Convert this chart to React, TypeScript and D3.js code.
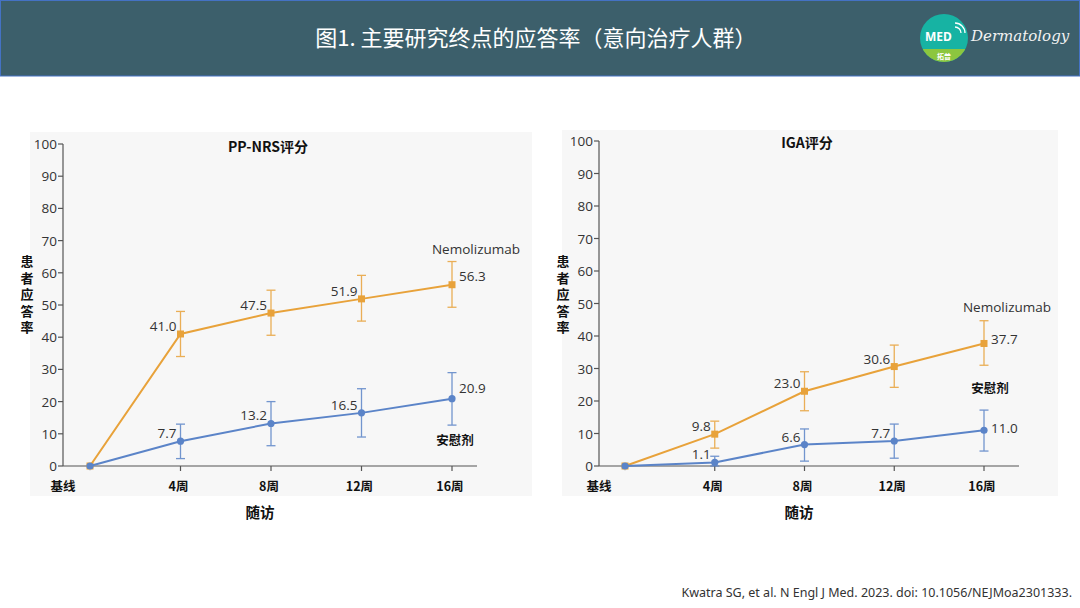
import React from 'react';
import * as d3 from 'd3';

// visits on the x axis
const visits = ['基线', '4周', '8周', '12周', '16周'];
const yTicks = [0, 10, 20, 30, 40, 50, 60, 70, 80, 90, 100];

// PP-NRS panel
const ppNemo = [0, 41.0, 47.5, 51.9, 56.3];
const ppNemoLo = [null, 34.0, 40.6, 45.0, 49.3];
const ppNemoHi = [null, 48.0, 54.6, 59.2, 63.5];
const ppPlacebo = [0, 7.7, 13.2, 16.5, 20.9];
const ppPlaceboLo = [null, 2.3, 6.3, 9.0, 12.7];
const ppPlaceboHi = [null, 13.0, 20.0, 24.0, 29.0];

// IGA panel
const igaNemo = [0, 9.8, 23.0, 30.6, 37.7];
const igaNemoLo = [null, 5.5, 17.0, 24.2, 31.0];
const igaNemoHi = [null, 13.8, 29.0, 37.2, 44.7];
const igaPlacebo = [0, 1.1, 6.6, 7.7, 11.0];
const igaPlaceboLo = [null, 0, 1.5, 2.4, 4.6];
const igaPlaceboHi = [null, 3.0, 11.4, 12.9, 17.2];

const ORANGE = '#E8A23A';
const BLUE = '#5B84C8';
const TEXT = '#333';
const NUM_FONT = '"Open Sans", "Noto Sans", sans-serif';
const CJK_FONT = '"Noto Sans CJK SC", "Noto Sans", sans-serif';

interface ISeries {
  values: number[];
  lo: (number | null)[];
  hi: (number | null)[];
  color: string;
  marker: 'square' | 'circle';
}

interface IPanelProps {
  title: string;
  bg: [number, number, number, number];
  x0: number;
  x1: number;
  padL: number;
  padR: number;
  yTop: number;
  yBottom: number;
  titleY: number;
  nemo: ISeries;
  placebo: ISeries;
  nemoLabel: [number, number];
  placeboLabel: [number, number];
  lastDy: [number, number];
}

const Panel: React.FC<IPanelProps> = (p) => {
  const x = d3.scalePoint<string>().domain(visits).range([p.x0 + p.padL, p.x1 - p.padR]);
  const y = d3.scaleLinear().domain([0, 100]).range([p.yBottom, p.yTop]);
  const line = d3
    .line<number>()
    .x((_, i) => x(visits[i]) || 0)
    .y((d) => y(d));
  const cx = (p.x0 + p.x1) / 2 - 10;

  const drawSeries = (s: ISeries, lastDy: number) => (
    <g>
      {s.values.map((v, i) => {
        const lo = s.lo[i];
        const hi = s.hi[i];
        if (lo === null || hi === null) return null;
        const xi = x(visits[i]) || 0;
        return (
          <g key={'e' + i} stroke={s.color} strokeWidth={1.3} opacity={0.85}>
            <line x1={xi} x2={xi} y1={y(lo)} y2={y(hi)} />
            <line x1={xi - 4.5} x2={xi + 4.5} y1={y(lo)} y2={y(lo)} />
            <line x1={xi - 4.5} x2={xi + 4.5} y1={y(hi)} y2={y(hi)} />
          </g>
        );
      })}
      <path d={line(s.values) || ''} fill="none" stroke={s.color} strokeWidth={2} />
      {s.values.map((v, i) => {
        const xi = x(visits[i]) || 0;
        return s.marker === 'square' ? (
          <rect key={'m' + i} x={xi - 3.5} y={y(v) - 3.5} width={7} height={7} fill={s.color} />
        ) : (
          <circle key={'m' + i} cx={xi} cy={y(v)} r={3.6} fill={s.color} />
        );
      })}
      {s.values.map((v, i) => {
        if (i === 0) return null;
        const xi = x(visits[i]) || 0;
        const last = i === s.values.length - 1;
        return (
          <text
            key={'t' + i}
            x={last ? xi + 7 : xi - 4}
            y={y(v) + (last ? lastDy : -3)}
            textAnchor={last ? 'start' : 'end'}
            fontFamily={NUM_FONT}
            fontSize={13.5}
            fill={TEXT}
          >
            {v.toFixed(1)}
          </text>
        );
      })}
    </g>
  );

  return (
    <g>
      <rect x={p.bg[0]} y={p.bg[1]} width={p.bg[2] - p.bg[0]} height={p.bg[3] - p.bg[1]} fill="#f7f7f7" />
      <text x={cx + 8} y={p.titleY} textAnchor="middle" fontFamily={CJK_FONT} fontWeight="bold" fontSize={14} fill="#111">
        {p.title}
      </text>
      {/* y axis */}
      <line x1={p.x0} x2={p.x0} y1={y(100)} y2={y(0)} stroke="#555" strokeWidth={1.2} />
      {yTicks.map((t) => (
        <g key={t}>
          <line x1={p.x0 - 5} x2={p.x0} y1={y(t)} y2={y(t)} stroke="#555" strokeWidth={1.2} />
          <text x={p.x0 - 6} y={y(t) + 5} textAnchor="end" fontFamily={NUM_FONT} fontSize={13.5} fill={TEXT}>
            {t}
          </text>
        </g>
      ))}
      {/* x axis */}
      <line x1={p.x0} x2={p.x1} y1={y(0)} y2={y(0)} stroke="#555" strokeWidth={1.2} />
      {visits.map((v, i) => {
        const xi = x(v) || 0;
        return (
          <g key={v}>
            <line x1={xi} x2={xi} y1={y(0)} y2={y(0) + 5} stroke="#555" strokeWidth={1.2} opacity={i === 0 ? 0.15 : 1} />
            <text
              x={i === 0 ? p.x0 : xi - 2}
              y={y(0) + 25}
              textAnchor="middle"
              fontFamily={CJK_FONT}
              fontWeight="bold"
              fontSize={12.5}
              fill="#111"
            >
              {v}
            </text>
          </g>
        );
      })}
      <text x={cx} y={y(0) + 52} textAnchor="middle" fontFamily={CJK_FONT} fontWeight="bold" fontSize={14.5} fill="#111">
        随访
      </text>
      {/* vertical y label */}
      <text
        x={p.x0 - 36}
        y={255}
        style={{ writingMode: 'vertical-rl' }}
        letterSpacing={3.5}
        fontFamily={CJK_FONT}
        fontWeight="bold"
        fontSize={13}
        fill="#111"
      >
        患者应答率
      </text>
      {drawSeries(p.nemo, p.lastDy[0])}
      {drawSeries(p.placebo, p.lastDy[1])}
      <text x={p.nemoLabel[0]} y={p.nemoLabel[1]} textAnchor="end" fontFamily={NUM_FONT} fontSize={13.5} fill={TEXT}>
        Nemolizumab
      </text>
      <text x={p.placeboLabel[0]} y={p.placeboLabel[1]} textAnchor="middle" fontFamily={CJK_FONT} fontWeight="bold" fontSize={12.5} fill="#111">
        安慰剂
      </text>
    </g>
  );
};

const Logo: React.FC = () => (
  <g>
    <defs>
      <clipPath id="logoClip">
        <circle cx={944} cy={38} r={24} />
      </clipPath>
    </defs>
    <g clipPath="url(#logoClip)">
      <rect x={918} y={12} width={52} height={52} fill="#17B3A3" />
      <rect x={918} y={49} width={52} height={20} fill="#8CC63F" />
    </g>
    <text x={925} y={41} fontFamily='"Noto Sans", sans-serif' fontSize={12} fontWeight="bold" fill="#fff">
      MED
    </text>
    <path d="M955 27 a6 6 0 0 1 6 6 M955 23 a10 10 0 0 1 10 10" fill="none" stroke="#fff" strokeWidth={1.3} />
    <text x={944} y={59} textAnchor="middle" fontFamily={CJK_FONT} fontSize={7} fontWeight="bold" fill="#fff">
      拓普
    </text>
    <text x={971} y={41} fontFamily='"DejaVu Serif", serif' fontStyle="italic" fontSize={15} fill="#f2f2f2">
      Dermatology
    </text>
  </g>
);

const App: React.FC = () => (
  <svg width={1080} height={608} style={{ position: 'absolute', left: 0, top: 0 }}>
    <rect width={1080} height={608} fill="#fff" />
    <rect x={0.5} y={0.5} width={1079} height={75.5} fill="#3C5F6B" stroke="#4472C4" strokeWidth={1} />
    <text x={536} y={46} textAnchor="middle" fontFamily={CJK_FONT} fontSize={22} fill="#fff">
      图1. 主要研究终点的应答率（意向治疗人群）
    </text>
    <Logo />
    <Panel
      title="PP-NRS评分"
      bg={[30, 132, 532, 496]}
      x0={63}
      x1={477}
      padL={27}
      padR={25}
      yTop={144}
      yBottom={466}
      titleY={152}
      nemo={{ values: ppNemo, lo: ppNemoLo, hi: ppNemoHi, color: ORANGE, marker: 'square' }}
      placebo={{ values: ppPlacebo, lo: ppPlaceboLo, hi: ppPlaceboHi, color: BLUE, marker: 'circle' }}
      nemoLabel={[520, 254]}
      placeboLabel={[455, 445]}
      lastDy={[-4, -6]}
    />
    <Panel
      title="IGA评分"
      bg={[562, 130, 1058, 496]}
      x0={599}
      x1={1019}
      padL={26}
      padR={35}
      yTop={141}
      yBottom={466}
      titleY={148}
      nemo={{ values: igaNemo, lo: igaNemoLo, hi: igaNemoHi, color: ORANGE, marker: 'square' }}
      placebo={{ values: igaPlacebo, lo: igaPlaceboLo, hi: igaPlaceboHi, color: BLUE, marker: 'circle' }}
      nemoLabel={[1051, 312]}
      placeboLabel={[990, 393]}
      lastDy={[1, 3]}
    />
    <text x={1072} y={597} textAnchor="end" fontFamily='"Noto Sans", sans-serif' fontSize={12.5} fill={TEXT}>
      Kwatra SG, et al. N Engl J Med. 2023. doi: 10.1056/NEJMoa2301333.
    </text>
  </svg>
);

export default App;
